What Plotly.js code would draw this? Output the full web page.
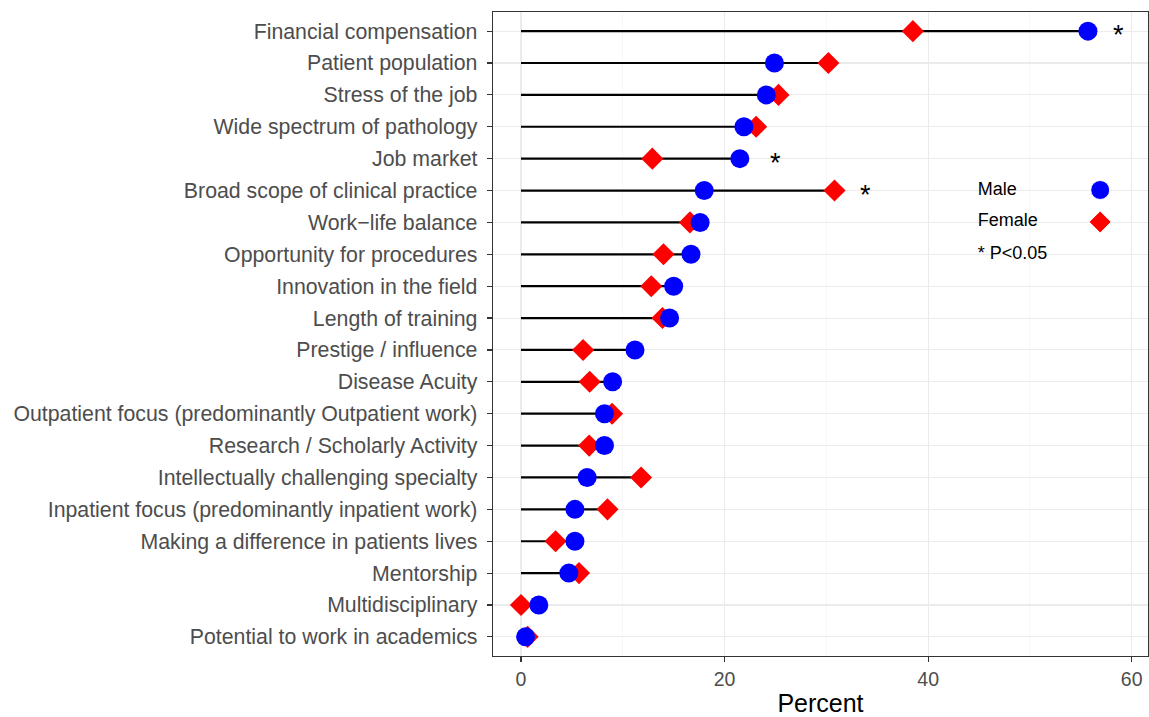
<!DOCTYPE html>
<html>
<head>
<meta charset="utf-8">
<script src="https://cdn.plot.ly/plotly-3.0.1.min.js"></script>
<style>html,body{margin:0;padding:0;background:#fff;}#chart{width:1149px;height:717px;}</style>
</head>
<body>
<div id="chart"></div>
<script>
var categories = ['Financial compensation','Patient population','Stress of the job','Wide spectrum of pathology','Job market','Broad scope of clinical practice','Work\u2212life balance','Opportunity for procedures','Innovation in the field','Length of training','Prestige / influence','Disease Acuity','Outpatient focus (predominantly Outpatient work)','Research / Scholarly Activity','Intellectually challenging specialty','Inpatient focus (predominantly inpatient work)','Making a difference in patients lives','Mentorship','Multidisciplinary','Potential to work in academics'];
var male   = [55.7, 24.9, 24.1, 21.9, 21.5, 18.0, 17.6, 16.7, 15.0, 14.6, 11.2, 9.0, 8.2, 8.2, 6.5, 5.3, 5.3, 4.7, 1.75, 0.45];
var female = [38.5, 30.2, 25.3, 23.1, 12.9, 30.8, 16.6, 14.0, 12.8, 13.9, 6.1, 6.75, 8.95, 6.7, 11.8, 8.5, 3.4, 5.7, 0.0, 0.65];
var sigCategories = ['Financial compensation','Job market','Broad scope of clinical practice'];
var sigX = [58.7, 25.0, 33.8];
var sigLabels = ['*','*','*'];
var legendLabels = ['Male','Female','* P<0.05'];

var FONT = '"Liberation Sans", Arial, Helvetica, sans-serif';

// segment line from 0 to max of the two values
var lx = [], ly = [];
for (var i = 0; i < categories.length; i++) {
  lx.push(0, Math.max(male[i], female[i]), null);
  ly.push(categories[i], categories[i], null);
}

var traces = [
  {type:'scatter', mode:'lines', x:lx, y:ly, line:{color:'#000', width:2.2}, hoverinfo:'skip', showlegend:false},
  {type:'scatter', mode:'markers', name:'Female', x:female, y:categories, marker:{symbol:'diamond', size:17, color:'#FF0000', opacity:1}, showlegend:false},
  {type:'scatter', mode:'markers', name:'Male', x:male, y:categories, marker:{symbol:'circle', size:19, color:'#0000FF', opacity:1}, showlegend:false},
  // legend key markers on an overlay axis
  {type:'scatter', mode:'markers', x:[0.927, 0.927], y:[0.7236, 0.674], xaxis:'x2', yaxis:'y2',
   marker:{symbol:['circle','diamond'], size:[19,17], color:['#0000FF','#FF0000'], opacity:1}, showlegend:false, hoverinfo:'skip'},
  {type:'scatter', mode:'text', x:[0.74, 0.74, 0.74], y:[0.7236, 0.674, 0.624], xaxis:'x2', yaxis:'y2',
   text:legendLabels, textposition:'middle right', textfont:{family:FONT, size:18, color:'#000'}, showlegend:false, hoverinfo:'skip'}
];

var annotations = sigX.map(function (x, k) {
  return {x:x, y:sigCategories[k], xref:'x', yref:'y', text:sigLabels[k], showarrow:false,
          yshift:-4, font:{family:FONT, size:27, color:'#000'}};
});

var layout = {
  width:1149, height:717,
  margin:{l:493, r:1, t:12, b:61},
  paper_bgcolor:'#fff', plot_bgcolor:'#fff',
  showlegend:false,
  font:{family:FONT},
  annotations:annotations,
  xaxis:{
    range:[-2.75, 61.6], tickvals:[0,20,40,60], ticktext:['0','20','40','60'],
    showgrid:true, gridcolor:'#ebebeb', gridwidth:1.1,
    minor:{tickvals:[10,30,50], showgrid:true, gridcolor:'#f2f2f2', gridwidth:0.6, ticklen:0},
    zeroline:false, showline:true, mirror:true, linecolor:'#333333', linewidth:1.3,
    ticks:'outside', ticklen:5, tickcolor:'#333333', tickwidth:1.2,
    tickfont:{family:FONT, size:19.5, color:'#4d4d4d'},
    title:{text:'Percent', font:{family:FONT, size:25, color:'#000'}, standoff:10}
  },
  yaxis:{
    type:'category', categoryorder:'array', categoryarray:categories,
    range:[categories.length - 0.4, -0.6],
    showgrid:true, gridcolor:'#ebebeb', gridwidth:1.1,
    zeroline:false, showline:true, mirror:true, linecolor:'#333333', linewidth:1.3,
    ticks:'outside', ticklen:5, tickcolor:'#333333', tickwidth:1.2,
    ticklabelstandoff:5,
    tickfont:{family:FONT, size:21.3, color:'#4d4d4d'}
  },
  xaxis2:{overlaying:'x', range:[0,1], visible:false, fixedrange:true},
  yaxis2:{overlaying:'y', range:[0,1], visible:false, fixedrange:true}
};

Plotly.newPlot('chart', traces, layout, {displayModeBar:false, staticPlot:true});
</script>
</body>
</html>
